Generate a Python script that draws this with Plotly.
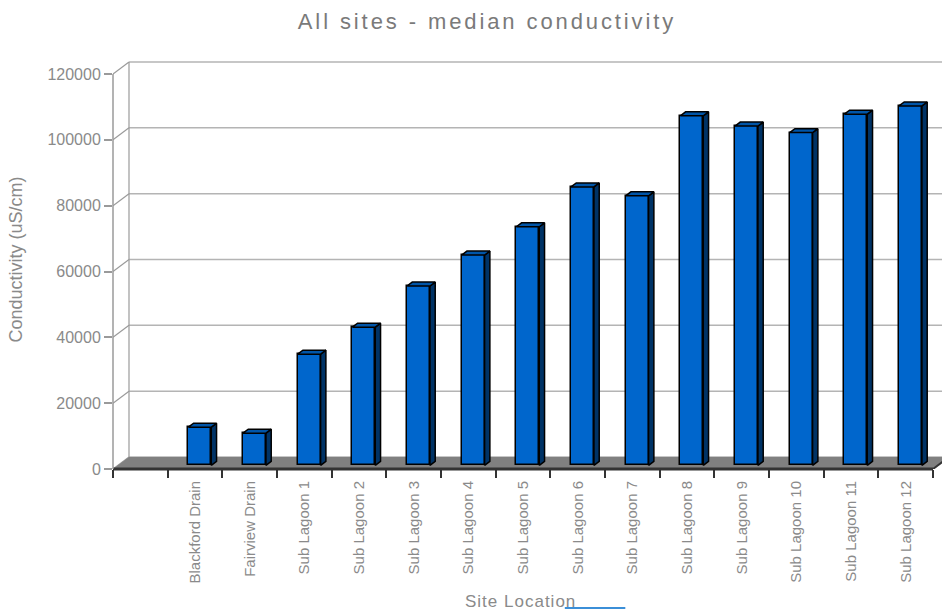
import plotly.graph_objects as go

# ---- data -------------------------------------------------------------
sites = [
    "Blackford Drain", "Fairview Drain",
    "Sub Lagoon 1", "Sub Lagoon 2", "Sub Lagoon 3", "Sub Lagoon 4",
    "Sub Lagoon 5", "Sub Lagoon 6", "Sub Lagoon 7", "Sub Lagoon 8",
    "Sub Lagoon 9", "Sub Lagoon 10", "Sub Lagoon 11", "Sub Lagoon 12",
]
median_conductivity = [
    11600, 9800,
    33800, 42000, 54500, 63900,
    72500, 84600, 81900, 106200,
    103100, 101100, 106700, 109200,
]
y_tick_values = [0, 20000, 40000, 60000, 80000, 100000, 120000]
y_tick_labels = ["0", "20000", "40000", "60000", "80000", "100000", "120000"]

# ---- pseudo-3D geometry (in axis units) -------------------------------
n_slots = len(sites) + 1          # a leading empty slot on the category axis
DX = 0.2927                       # depth of the box, in category slots
DY = 3646                         # depth of the box, in conductivity units
BAR_FRONT = 0.30                  # bar front face position within the depth
BAR_DEPTH = 0.33                  # bar thickness as a share of the depth
BAR_W = 0.42
X_MAX = 15.165
Y_MAX = 127291

FRONT_C = "#0066CC"
SIDE_C = "#003366"
TOP_C = "#0055A8"
GREY_TXT = "#8a8a8a"

centers = [i + 1.5 for i in range(len(sites))]
bar_x = [c + BAR_FRONT * DX for c in centers]
base = BAR_FRONT * DY
tdx, tdy = BAR_DEPTH * DX, BAR_DEPTH * DY

fig = go.Figure()

# front faces
fig.add_trace(go.Bar(
    x=bar_x, y=median_conductivity, base=base, width=BAR_W,
    marker=dict(color=FRONT_C, line=dict(color="#000000", width=1.5)),
    hoverinfo="skip", showlegend=False,
))

# side and top faces
side_x, side_y, top_x, top_y = [], [], [], []
for bx, v in zip(bar_x, median_conductivity):
    xl, xr = bx - BAR_W / 2, bx + BAR_W / 2
    t = base + v
    side_x += [xr, xr + tdx, xr + tdx, xr, xr, None]
    side_y += [base, base + tdy, t + tdy, t, base, None]
    top_x += [xl, xl + tdx, xr + tdx, xr, xl, None]
    top_y += [t, t + tdy, t + tdy, t, t, None]

fig.add_trace(go.Scatter(
    x=side_x, y=side_y, mode="lines", fill="toself", fillcolor=SIDE_C,
    line=dict(color="#000000", width=1.5), hoverinfo="skip", showlegend=False,
))
fig.add_trace(go.Scatter(
    x=top_x, y=top_y, mode="lines", fill="toself", fillcolor=TOP_C,
    line=dict(color="#000000", width=1.5), hoverinfo="skip", showlegend=False,
))

# ---- walls, floor and grid --------------------------------------------
shapes = []
for v in y_tick_values:
    # side wall diagonal
    shapes.append(dict(type="line", xref="x", yref="y", x0=0, y0=v, x1=DX, y1=v + DY,
                       line=dict(color="#9a9a9a", width=1.2), layer="below"))
    # back wall gridline
    shapes.append(dict(type="line", xref="x", yref="y", x0=DX, y0=v + DY,
                       x1=n_slots + DX, y1=v + DY,
                       line=dict(color="#b4b4b4", width=1.5), layer="below"))
# back-left edge of the wall
shapes.append(dict(type="line", xref="x", yref="y", x0=DX, y0=DY, x1=DX,
                   y1=y_tick_values[-1] + DY,
                   line=dict(color="#9a9a9a", width=1.2), layer="below"))
# floor
shapes.append(dict(type="path", xref="x", yref="y",
                   path=f"M 0 0 L {n_slots} 0 L {n_slots + DX} {DY} L {DX} {DY} Z",
                   fillcolor="#808080", line=dict(width=0), layer="below"))
shapes.append(dict(type="line", xref="x", yref="y", x0=n_slots, y0=0,
                   x1=n_slots + DX, y1=DY,
                   line=dict(color="#333333", width=2), layer="below"))
# front edge of the floor
shapes.append(dict(type="line", xref="x", yref="paper", x0=0, y0=0, x1=n_slots, y1=0,
                   line=dict(color="#333333", width=3), layer="above"))
# front vertical axis line
shapes.append(dict(type="line", xref="paper", yref="y", x0=0, y0=0, x1=0,
                   y1=y_tick_values[-1], line=dict(color="#9a9a9a", width=1.5),
                   layer="above"))
# underline under the axis caption
shapes.append(dict(type="line", xref="paper", yref="paper",
                   x0=0.545, y0=-0.332, x1=0.618, y1=-0.332,
                   line=dict(color="#3b8fd8", width=2)))

fig.update_layout(
    width=942, height=610,
    margin=dict(l=113, r=0, t=50, b=141),
    paper_bgcolor="white", plot_bgcolor="white",
    font=dict(family="Liberation Sans, Arial, sans-serif", color=GREY_TXT),
    title=dict(
        text='<span style="letter-spacing:2.9px">All sites - median conductivity</span>',
        x=0.517, xref="container", xanchor="center",
        y=0.965, yref="container", yanchor="middle",
        font=dict(size=22, color="#7a7a7a"),
    ),
    shapes=shapes,
    annotations=[dict(
        text='<span style="letter-spacing:1px">Site Location</span>',
        xref="paper", yref="paper", x=0.491, y=-0.3155,
        xanchor="center", yanchor="middle", showarrow=False,
        font=dict(size=17, color=GREY_TXT),
    )],
    bargap=0,
    xaxis=dict(
        range=[0, X_MAX], showgrid=False, zeroline=False, showline=False,
        tickmode="array", tickvals=centers, ticktext=sites, ticks="",
        tickangle=-90, tickfont=dict(size=15, color=GREY_TXT),
        ticklabelstandoff=8,
        minor=dict(tickmode="array", tickvals=list(range(n_slots + 1)),
                   ticks="outside", ticklen=8, tickwidth=1.5, tickcolor="#333333"),
        fixedrange=True,
    ),
    yaxis=dict(
        range=[0, Y_MAX], showgrid=False, zeroline=False, showline=False,
        tickmode="array", tickvals=y_tick_values, ticktext=y_tick_labels,
        ticks="outside", ticklen=8, tickwidth=1.5, tickcolor="#9a9a9a",
        tickfont=dict(size=16, color=GREY_TXT),
        title=dict(text="Conductivity (uS/cm)", font=dict(size=18, color=GREY_TXT),
                   standoff=20),
        fixedrange=True,
    ),
)

fig.write_html("out.html")
